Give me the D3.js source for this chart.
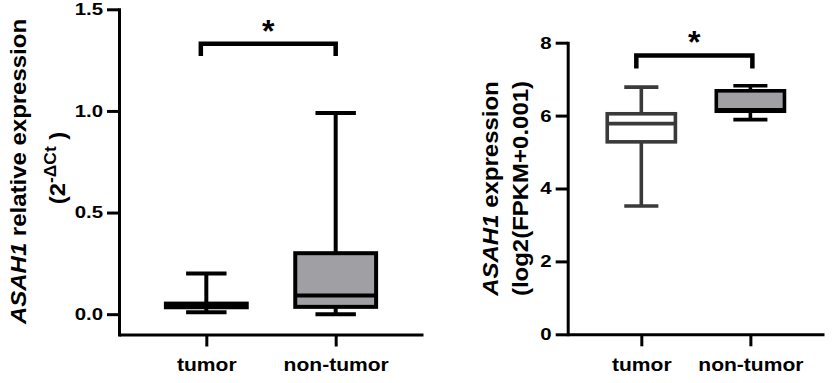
<!DOCTYPE html>
<meta charset="utf-8">
<script src="https://d3js.org/d3.v7.min.js"></script>
<style>
  body { margin: 0; background: #fff; }
  text { font-family: Arial, "Liberation Sans", Helvetica, sans-serif; font-weight: bold; }
</style>
<div id="chart"></div>
<script>

// groups on the x axis (same for both panels)
var groups = ["tumor", "non-tumor"];

// left panel: qPCR, 2^-dCt
var qpcrMin    = [0.01, 0.00];
var qpcrQ1     = [0.034, 0.036];
var qpcrMedian = [0.043, 0.092];
var qpcrQ3     = [0.052, 0.30];
var qpcrMax    = [0.20, 0.99];
var qpcrTicks  = [0, 0.5, 1.0, 1.5];

// right panel: log2(FPKM+0.001)
var fpkmMin    = [3.52, 5.89];
var fpkmQ1     = [5.28, 6.12];
var fpkmMedian = [5.78, 6.16];
var fpkmQ3     = [6.05, 6.68];
var fpkmMax    = [6.78, 6.82];
var fpkmTicks  = [0, 2, 4, 6, 8];

var svg = d3.select("#chart")
  .append("svg")
    .attr("width", 832)
    .attr("height", 383);

function drawPanel(p) {
  var x = d3.scalePoint().domain(groups).range([p.left, p.right]).padding(0.675);
  var y = d3.scaleLinear().domain(p.domain).range([p.bottom, p.top]);
  var step = x.step();
  var boxW = step * 0.625;
  var capW = boxW / 2;

  var g = svg.append("g");

  // Y axis
  var yAxis = g.append("g")
    .attr("transform", "translate(" + p.left + ",0)")
    .call(d3.axisLeft(y).tickValues(p.ticks).tickFormat(p.fmt)
      .tickSize(12).tickPadding(4).tickSizeOuter(0));
  yAxis.attr("font-size", 17).attr("font-family", null);
  yAxis.select(".domain").attr("stroke-width", 3).attr("stroke-linecap", "square");
  yAxis.selectAll(".tick line").attr("stroke-width", 3);
  yAxis.selectAll(".tick text")
    .attr("fill", "#000")
    .attr("x", -16 / 1.2)
    .attr("transform", "scale(1.2,1)");

  // X axis
  var xAxis = g.append("g")
    .attr("transform", "translate(0," + p.bottom + ")")
    .call(d3.axisBottom(x).tickSize(12).tickPadding(12).tickSizeOuter(0));
  xAxis.attr("font-size", 18).attr("font-family", null);
  xAxis.select(".domain").attr("stroke-width", 3);
  xAxis.selectAll(".tick line").attr("stroke-width", 3);
  xAxis.selectAll(".tick text")
    .attr("fill", "#000")
    .attr("transform", "scale(1.17,1)");

  // boxes
  groups.forEach(function(d, i) {
    var cx = x(d);
    var col = p.stroke[i];
    // whisker
    g.append("line")
      .attr("x1", cx).attr("x2", cx)
      .attr("y1", y(p.min[i])).attr("y2", y(p.max[i]))
      .attr("stroke", col).attr("stroke-width", p.lw);
    // caps
    [p.min[i], p.max[i]].forEach(function(v) {
      g.append("line")
        .attr("x1", cx - capW / 2).attr("x2", cx + capW / 2)
        .attr("y1", y(v)).attr("y2", y(v))
        .attr("stroke", col).attr("stroke-width", p.lw);
    });
    // box
    g.append("rect")
      .attr("x", cx - boxW / 2)
      .attr("y", y(p.q3[i]))
      .attr("width", boxW)
      .attr("height", y(p.q1[i]) - y(p.q3[i]))
      .attr("fill", p.fill[i])
      .attr("stroke", col).attr("stroke-width", p.lw);
    // median
    g.append("line")
      .attr("x1", cx - boxW / 2).attr("x2", cx + boxW / 2)
      .attr("y1", y(p.median[i])).attr("y2", y(p.median[i]))
      .attr("stroke", col).attr("stroke-width", p.lw);
  });

  // significance bracket
  var bx1 = x(groups[0]) + p.nudge[0];
  var bx2 = x(groups[1]) + p.nudge[1];
  g.append("path")
    .attr("d", "M" + bx1 + "," + y(p.legEnd) + "V" + y(p.bracket) + "H" + bx2 + "V" + y(p.legEnd))
    .attr("fill", "none")
    .attr("stroke", "#000")
    .attr("stroke-width", 4.5);
  g.append("text")
    .attr("x", (bx1 + bx2) / 2)
    .attr("y", y(p.bracket) - 2)
    .attr("text-anchor", "middle")
    .attr("font-size", 32)
    .text("*");

  return g;
}

// left panel
var left = drawPanel({
  left: 119, right: 423, top: 9.3, bottom: 334.5,
  domain: [-0.1, 1.5], ticks: qpcrTicks, fmt: d3.format(".1f"),
  min: qpcrMin, q1: qpcrQ1, median: qpcrMedian, q3: qpcrQ3, max: qpcrMax,
  stroke: ["#000", "#000"], fill: ["#fff", "#a0a0a4"], lw: 4,
  bracket: 1.331, legEnd: 1.27, nudge: [-5.5, 0]
});

var l1 = left.append("text")
  .attr("transform", "translate(26,171.5) rotate(-90) scale(1.09,1)")
  .attr("text-anchor", "middle")
  .attr("font-size", 22);
l1.append("tspan").attr("font-style", "italic").text("ASAH1");
l1.append("tspan").text(" relative expression");

var l2 = left.append("text")
  .attr("transform", "translate(65,168) rotate(-90) scale(1.09,1)")
  .attr("text-anchor", "middle")
  .attr("font-size", 22);
l2.append("tspan").text("(2");
l2.append("tspan").attr("font-size", 16).attr("dy", -9).text("-\u0394Ct");
l2.append("tspan").attr("dy", 9).text(" )");

// right panel
var right = drawPanel({
  left: 567.7, right: 824, top: 42.7, bottom: 334.3,
  domain: [0, 8], ticks: fpkmTicks, fmt: d3.format("d"),
  min: fpkmMin, q1: fpkmQ1, median: fpkmMedian, q3: fpkmQ3, max: fpkmMax,
  stroke: ["#3a3a3a", "#000"], fill: ["#fff", "#a0a0a4"], lw: 3.6,
  bracket: 7.65, legEnd: 7.29, nudge: [-5, 2]
});

var r1 = right.append("text")
  .attr("transform", "translate(498,188.5) rotate(-90) scale(1.09,1)")
  .attr("text-anchor", "middle")
  .attr("font-size", 22);
r1.append("tspan").attr("font-style", "italic").text("ASAH1");
r1.append("tspan").text(" expression");

right.append("text")
  .attr("transform", "translate(528,188.5) rotate(-90) scale(1.09,1)")
  .attr("text-anchor", "middle")
  .attr("font-size", 22)
  .text("(log2(FPKM+0.001)");

</script>
